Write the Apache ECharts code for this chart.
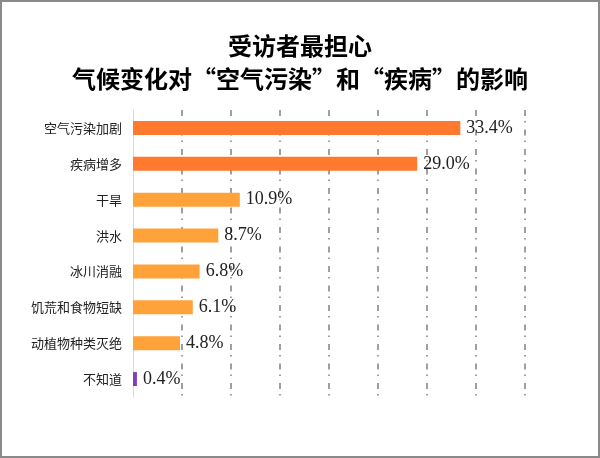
<!DOCTYPE html>
<html>
<head>
<meta charset="utf-8">
<script src="https://cdn.jsdelivr.net/npm/echarts@6/dist/echarts.min.js"></script>
<style>
  html, body { margin: 0; padding: 0; background: #fff; }
  #main { width: 600px; height: 458px; box-sizing: border-box; border: 2px solid #8a8a8a; }
</style>
</head>
<body>
<div id="main"></div>
<script>
// 类别（从上到下）
var categories = ['空气污染加剧', '疾病增多', '干旱', '洪水', '冰川消融', '饥荒和食物短缺', '动植物种类灭绝', '不知道'];
// 百分比
var values = [33.4, 29.0, 10.9, 8.7, 6.8, 6.1, 4.8, 0.4];

var darkOrange = '#ff7a2f';
var lightOrange = '#ffa23a';
var purple = '#7b3fbf';

var myChart = echarts.init(document.getElementById('main'));

var option = {
  backgroundColor: '#fff',
  title: {
    text: '受访者最担心\n气候变化对“空气污染”和“疾病”的影响',
    left: 'center',
    top: 22,
    textStyle: {
      fontFamily: 'Noto Sans CJK SC',
      fontSize: 24,
      fontWeight: 'bold',
      color: '#000',
      lineHeight: 33
    }
  },
  grid: {
    left: 131,
    right: 73,
    top: 108,
    bottom: 59
  },
  xAxis: {
    type: 'value',
    min: 0,
    max: 40,
    interval: 5,
    axisLabel: { show: false },
    axisTick: { show: false },
    axisLine: { show: false },
    splitLine: {
      show: true,
      showMinLine: false,
      lineStyle: {
        color: '#808080',
        width: 1.5,
        type: [6, 5, 1.5, 7]
      }
    }
  },
  yAxis: {
    type: 'category',
    data: categories,
    inverse: true,
    axisTick: { show: false },
    axisLine: { show: true, lineStyle: { color: '#d9d9d9', width: 1 } },
    axisLabel: {
      margin: 11,
      fontFamily: 'Noto Sans CJK SC',
      fontSize: 13,
      color: '#222'
    }
  },
  series: [{
    type: 'bar',
    data: values,
    barWidth: 14,
    itemStyle: {
      color: function (p) {
        if (p.dataIndex < 2) return darkOrange;
        if (p.dataIndex === values.length - 1) return purple;
        return lightOrange;
      }
    },
    label: {
      show: true,
      position: 'right',
      distance: 6,
      formatter: function (p) { return p.value.toFixed(1) + '%'; },
      fontFamily: 'Liberation Serif',
      fontSize: 18,
      color: '#222'
    }
  }]
};

myChart.setOption(option);
</script>
</body>
</html>
